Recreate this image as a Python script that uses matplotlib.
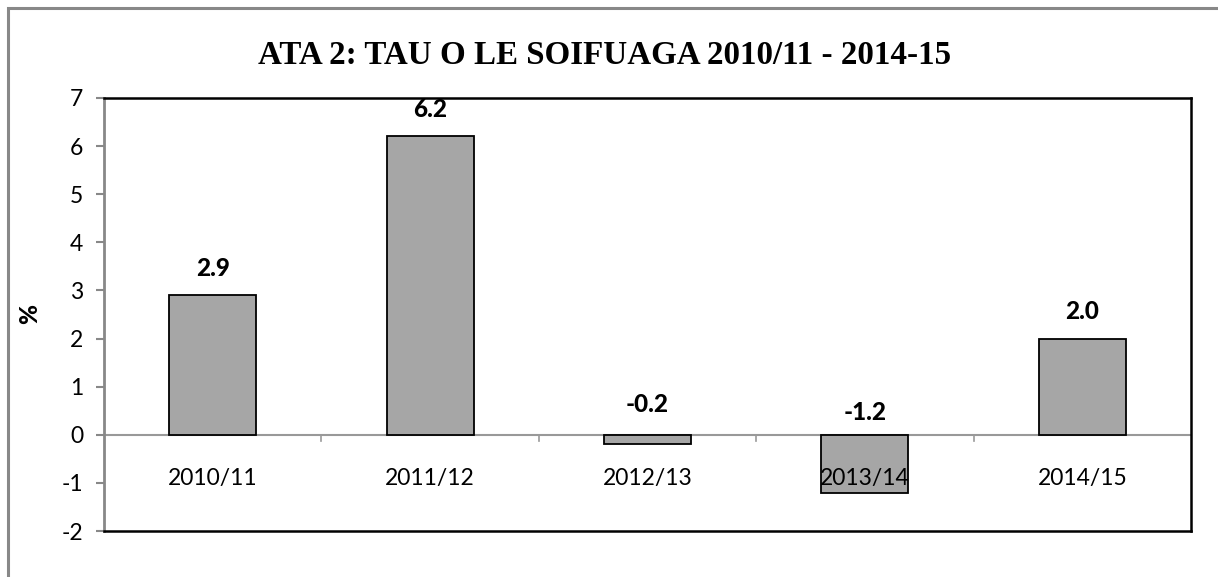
import matplotlib
matplotlib.use("Agg")
import matplotlib.pyplot as plt
from matplotlib.patches import Rectangle

categories = ["2010/11", "2011/12", "2012/13", "2013/14", "2014/15"]
values = [2.9, 6.2, -0.2, -1.2, 2.0]
labels = ["2.9", "6.2", "-0.2", "-1.2", "2.0"]
yticks = [-2, -1, 0, 1, 2, 3, 4, 5, 6, 7]
title = "ATA 2: TAU O LE SOIFUAGA 2010/11 - 2014-15"

W, H, DPI = 1218, 577, 100
fig = plt.figure(figsize=(W / DPI, H / DPI), dpi=DPI)

# outer chart border (left/top visible)
fig.patches.append(Rectangle((8 / W, -0.05), 1.2, 1 - 8 / H + 0.05, transform=fig.transFigure,
                             fill=False, edgecolor="#888888", linewidth=2.2))

L, R, T, B = 104, 1191, 98, 531
ax = fig.add_axes([L / W, 1 - B / H, (R - L) / W, (B - T) / H])

x = list(range(len(categories)))
ax.bar(x, values, width=0.4, color="#a6a6a6", edgecolor="black", linewidth=1.3, zorder=3)

ax.set_xlim(-0.5, len(categories) - 0.5)
ax.set_ylim(-2, 7)
ax.set_yticks(yticks)
ax.set_yticklabels([str(t) for t in yticks], fontfamily="Lato", fontsize=16.5)
ax.tick_params(axis="y", direction="out", length=6, width=1.5, color="#888888", pad=9)

ax.set_xticks([])
ax.axhline(0, color="#999999", linewidth=1.5, zorder=2)
for b in [0.5, 1.5, 2.5, 3.5]:
    ax.plot([b, b], [0, -0.12], color="#999999", linewidth=1.2, zorder=2)
for i, c in enumerate(categories):
    ax.text(i, -0.9, c, ha="center", va="center", fontfamily="Lato", fontsize=16.5, zorder=5)

for s in ["top", "right", "bottom"]:
    ax.spines[s].set_color("black")
    ax.spines[s].set_linewidth(1.8)
ax.spines["left"].set_color("#888888")
ax.spines["left"].set_linewidth(2)

for i, (v, lab) in enumerate(zip(values, labels)):
    if v >= 0:
        ax.annotate(lab, (i, v), xytext=(0, 19.5), textcoords="offset points",
                    ha="center", va="center", fontfamily="Lato", fontweight="black", fontsize=17.5)
    else:
        off = 22 if v > -1 else 16
        ax.annotate(lab, (i, 0), xytext=(0, off), textcoords="offset points",
                    ha="center", va="center", fontfamily="Lato", fontweight="black", fontsize=17.5)

ax.set_ylabel("%", fontfamily="Lato", fontweight="black", fontsize=17.5, va="center")
ax.yaxis.set_label_coords(-74 / (R - L), 0.5)

fig.text(605 / W, 1 - 55 / H, title, ha="center", va="center",
         fontfamily="Liberation Serif", fontweight="bold", fontsize=23.8)

fig.savefig("out.png", dpi=DPI)
